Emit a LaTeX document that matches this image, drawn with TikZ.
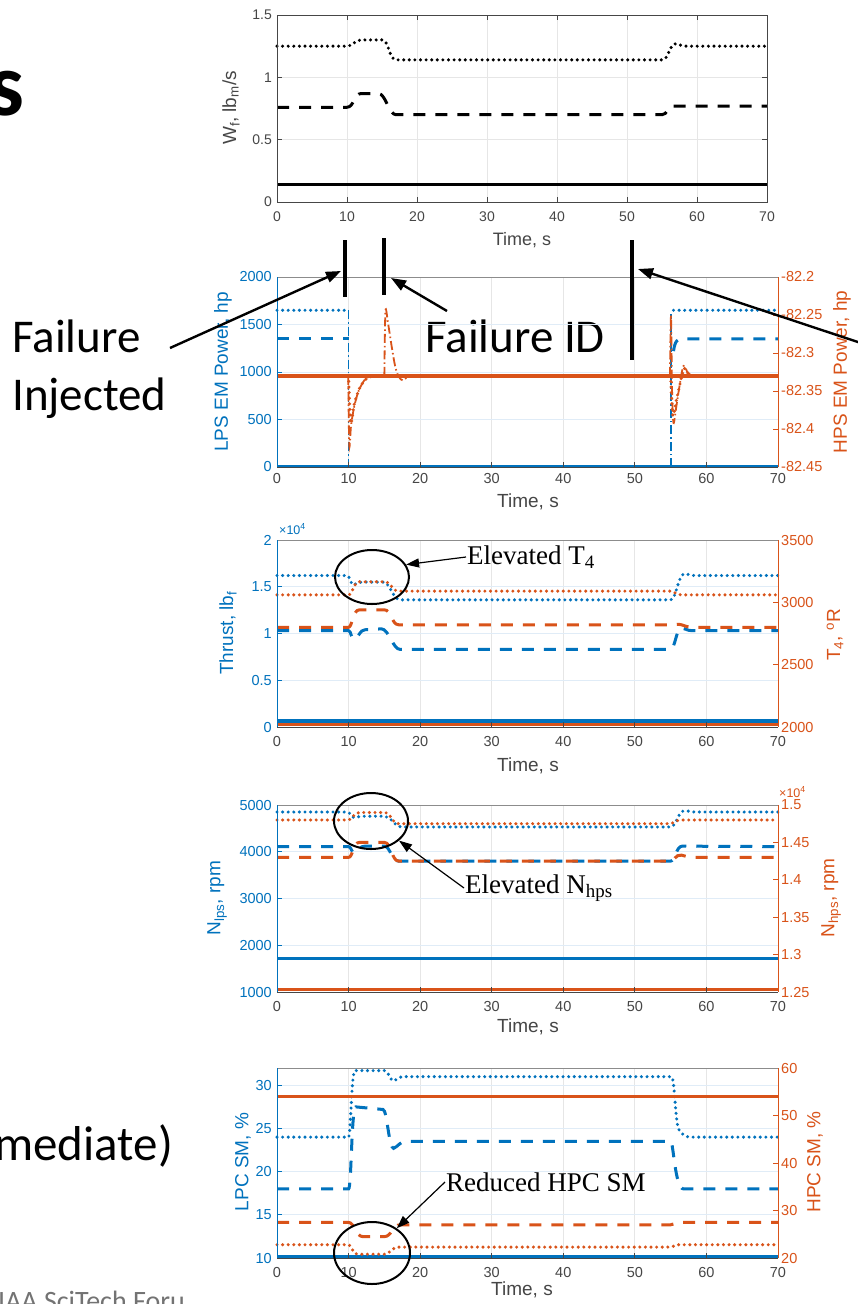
\documentclass[tikz,border=0pt]{standalone}
\usepackage{fontspec}
\setmainfont{Liberation Sans}
\newfontfamily\slidefont{Carlito}
\newfontfamily\annfont{Liberation Serif}
\usetikzlibrary{arrows.meta,shapes.geometric}
\definecolor{mblue}{RGB}{0,114,189}
\definecolor{morange}{RGB}{217,83,25}
\definecolor{axg}{RGB}{70,70,70}
\definecolor{gridg}{RGB}{230,230,230}
\definecolor{gridbl}{RGB}{224,236,247}
\tikzset{
  tk/.style={font=\fontsize{14.5}{14.5}\selectfont, inner sep=0pt},
  tksmall/.style={font=\fontsize{14}{14}\selectfont, inner sep=0pt, text=axg},
  axlbl/.style={font=\fontsize{19}{19}\selectfont, inner sep=0pt},
  frameln/.style={line width=1pt},
  gridln/.style={draw=gridg, line width=0.9pt},
  dotln/.style={line width=3.4pt, dash pattern=on 0pt off 5.6pt, line cap=round},
  dashln/.style={line width=3pt, dash pattern=on 12pt off 10pt},
  ddln/.style={line width=1.8pt, dash pattern=on 9pt off 3pt on 1.5pt off 3pt},
  solidln/.style={line width=3.4pt},
  p1/.style={shift={(277,202)}, xscale=7, yscale=-124.667},
  p2L/.style={shift={(277,467)}, xscale=7.157, yscale=-9.5},
  p2R/.style={shift={(277,467)}, xscale=7.157, yscale=-7.6},
  p3L/.style={shift={(277,727)}, xscale=7.157, yscale=-93.5},
  p3R/.style={shift={(277,727)}, xscale=7.157, yscale=-12.467},
  p4L/.style={shift={(277,992)}, xscale=7.157, yscale=-4.675},
  p4R/.style={shift={(277,992)}, xscale=7.157, yscale=-7.48},
  p5L/.style={shift={(277,1258)}, xscale=7.157, yscale=-8.636},
  p5R/.style={shift={(277,1258)}, xscale=7.157, yscale=-4.75},
  ring/.style={draw=black, line width=2pt, ellipse, inner sep=0pt},
  anno/.style={font=\annfont\fontsize{27}{27}\selectfont, inner sep=1pt},
  annoarr/.style={line width=1.2pt, -{Triangle[length=13pt,width=9pt]}},
  bigarr/.style={line width=2.4pt, -{Triangle[length=15pt,width=11pt]}},
  bar/.style={line width=4.5pt},
  slide/.style={font=\slidefont\fontsize{47}{47}\selectfont, inner sep=0pt},
}
\begin{document}
\begin{tikzpicture}[x=1pt, y=-1pt]
\useasboundingbox (0,0) rectangle (858,1304);
\fill[white] (0,0) rectangle (858,1304);
\clip (0,0) rectangle (858,1304);

% ---------- slide text ----------
\node[slide, font=\slidefont\bfseries\fontsize{90}{90}\selectfont, anchor=base east] (ttl) at (25,115) {s};
\node[slide, anchor=base west] (fi1) at (12,352) {Failure};
\node[slide, anchor=base west] (fi2) at (12,410) {Injected};
\node[slide, anchor=base west] (fid) at (425,352) {Failure ID};
\node[slide, font=\slidefont\fontsize{49}{49}\selectfont, anchor=base west] (imm) at (-6,1160) {mediate)};
\node[slide, font=\slidefont\fontsize{28}{28}\selectfont, text=black!55, anchor=base west] (conf) at (-2,1310) {IAA SciTech Foru};

% ================= plot 1: fuel flow =================
\draw[gridln] \foreach \t in {10,20,...,60} {(277+7*\t,15) -- (277+7*\t,202)};
\draw[gridln] (277,77.33) -- (767,77.33) (277,139.67) -- (767,139.67);
\begin{scope}[p1]
  \draw[dotln] (0,1.25) -- (10,1.25) .. controls (11,1.25) and (11,1.3) .. (12,1.3) -- (15,1.3) .. controls (16,1.3) and (16,1.14) .. (17,1.14) -- (55,1.14) .. controls (56,1.14) and (56,1.27) .. (57,1.27) .. controls (57.5,1.27) and (57.5,1.25) .. (58.5,1.25) -- (70,1.25);
  \draw[dashln] (0,0.76) -- (10,0.76) .. controls (11,0.76) and (11,0.87) .. (12,0.87) -- (14.5,0.87) .. controls (15.5,0.87) and (16,0.7) .. (17,0.7) -- (55,0.7) .. controls (55.8,0.7) and (55.8,0.77) .. (56.5,0.77) -- (70,0.77);
  \draw[solidln] (0,0.14) -- (70,0.14);
\end{scope}
\draw[frameln, draw=axg] (277,15) rectangle (767,202);
\draw[axg, line width=0.8pt] \foreach \t in {10,20,...,60} {(277+7*\t,202) -- ++(0,-5) (277+7*\t,15) -- ++(0,5)}
  \foreach \v in {0.5,1} {(277,202-124.667*\v) -- ++(5,0) (767,202-124.667*\v) -- ++(-5,0)};
\foreach \t in {0,10,...,70} \node[tksmall] (x1\t) at (277+7*\t,216.5) {\t};
\node[tksmall, anchor=east] (y1a) at (272,202) {0};
\node[tksmall, anchor=east] (y1b) at (272,139.67) {0.5};
\node[tksmall, anchor=east] (y1c) at (272,77.33) {1};
\node[tksmall, anchor=east] (y1d) at (272,15) {1.5};
\node[axlbl, font=\fontsize{18}{18}\selectfont, text=axg] (t1) at (522,240) {Time, s};
\node[axlbl, text=axg, rotate=90] (w1) at (231,108) {W\textsubscript{f}, lb\textsubscript{m}/s};

% ================= plot 2: EM power =================
\draw[gridln] \foreach \t in {10,20,...,60} {(277+7.157*\t,277) -- (277+7.157*\t,467)};
\draw[draw=gridbl, line width=0.9pt] \foreach \v in {500,1000,1500} {(277,467-0.095*\v) -- (778,467-0.095*\v)};
\begin{scope}[p2L]
  \draw[mblue, line width=2.4pt] (0,0.1) -- (70,0.1);
  \draw[mblue, dotln] (0,16.5) -- (10,16.5);
  \draw[mblue, dotln] (55.4,16.5) -- (70,16.5);
  \draw[mblue, dashln] (0,13.5) -- (10,13.5);
  \draw[mblue, dashln] (55.4,12.2) .. controls (55.6,13.3) and (56,13.5) .. (56.6,13.5) -- (70,13.5);
  \draw[mblue, ddln] (10,16.5) -- (10,0);
  \draw[mblue, ddln] (55,0) -- (55,16.1);
\end{scope}
\begin{scope}[p2R]
  \draw[morange, solidln] (0,12) -- (70,12);
  \draw[morange, ddln] plot[smooth] coordinates {(9.95,12) (10.1,2.8) (10.35,5.5) (10.8,8) (11.4,10) (12.2,11.4) (13,12)};
  \draw[morange, dotln] plot[smooth] coordinates {(10,12) (10.3,5.8) (10.8,8.3) (11.6,10.5) (12.6,11.7) (13.6,12)};
  \draw[morange, ddln] plot[smooth] coordinates {(15,12) (15.15,20.5) (15.5,19) (16,16) (16.5,13.3) (17,11.9) (17.6,11.4) (18.3,12)};
  \draw[morange, ddln] plot[smooth] coordinates {(54.9,12) (55.05,20) (55.2,10) (55.4,5.8) (55.8,8) (56.3,11) (56.8,13.3) (57.4,12.4) (58,12)};
  \draw[morange, dotln] plot[smooth] coordinates {(55,12) (55.3,6.8) (55.8,8.8) (56.4,11.3) (56.9,13) (57.6,12)};
\end{scope}
\draw[frameln, draw=black!45] (277,277) -- (778,277);
\draw[frameln, draw=axg] (277,467) -- (778,467);
\draw[frameln, draw=mblue] (277,277) -- (277,467);
\draw[frameln, draw=morange] (778,277) -- (778,467);
\draw[axg, line width=0.8pt] \foreach \t in {10,20,...,60} {(277+7.157*\t,467) -- ++(0,-5)};
\draw[mblue, line width=0.8pt] \foreach \v in {500,1000,1500} {(277,467-0.095*\v) -- ++(5,0)};
\draw[morange, line width=0.8pt] \foreach \k in {1,...,4} {(778,277+38*\k) -- ++(-5,0)};
\foreach \t in {0,10,...,70} \node[tk, text=axg] (x2\t) at (277+7.157*\t,479) {\t};
\foreach \v in {0,500,1000,1500,2000} \node[tk, text=mblue, anchor=east] (y2\v) at (272,467-0.095*\v) {\v};
\node[tk, text=morange, anchor=west] (r2a) at (781,277) {-82.2};
\node[tk, text=morange, anchor=west] (r2b) at (781,315) {-82.25};
\node[tk, text=morange, anchor=west] (r2c) at (781,353) {-82.3};
\node[tk, text=morange, anchor=west] (r2d) at (781,391) {-82.35};
\node[tk, text=morange, anchor=west] (r2e) at (781,429) {-82.4};
\node[tk, text=morange, anchor=west] (r2f) at (781,467) {-82.45};
\node[axlbl, text=axg] (t2) at (528,502) {Time, s};
\node[axlbl, text=mblue, rotate=90] (l2) at (223,372) {LPS EM Power, hp};
\node[axlbl, text=morange, rotate=90] (r2) at (842,372) {HPS EM Power, hp};

% event markers and call-outs
\coordinate (b1t) at (345,240); \coordinate (b1b) at (345,297);
\coordinate (b2t) at (384,238); \coordinate (b2b) at (384,295);
\coordinate (b3t) at (632,240); \coordinate (b3b) at (632,360);
\draw[bar] (b1t) -- (b1b);
\draw[bar] (b2t) -- (b2b);
\draw[bar] (b3t) -- (b3b);
\coordinate (a1s) at (170,348); \coordinate (a1e) at (341,271);
\coordinate (a2s) at (447,311); \coordinate (a2e) at (391,278);
\coordinate (a3s) at (900,356); \coordinate (a3e) at (638,269);
\draw[bigarr] (a1s) -- (a1e);
\draw[bigarr] (a2s) -- (a2e);
\draw[bigarr] (a3s) -- (a3e);

% ================= plot 3: thrust / T4 =================
\draw[gridln] \foreach \t in {10,20,...,60} {(277+7.157*\t,540) -- (277+7.157*\t,727)};
\draw[draw=gridbl, line width=0.9pt] \foreach \v in {0.5,1,1.5} {(277,727-93.5*\v) -- (778,727-93.5*\v)};
\begin{scope}[p3L]
  \draw[mblue, dotln] (0,1.62) -- (9.8,1.62) .. controls (10.2,1.62) and (10.3,1.5) .. (10.8,1.52) .. controls (11.2,1.55) and (11.5,1.55) .. (12,1.55) -- (14.8,1.55) .. controls (15.8,1.55) and (16.2,1.36) .. (17.2,1.36) -- (55,1.36) .. controls (55.8,1.36) and (56,1.64) .. (57,1.64) .. controls (57.5,1.64) and (57.5,1.62) .. (58.5,1.62) -- (70,1.62);
  \draw[mblue, dashln] (0,1.03) -- (10,1.03) .. controls (10.4,1.03) and (10.3,0.93) .. (10.9,0.94) .. controls (11.4,0.96) and (11.6,1.04) .. (12.3,1.04) -- (14.6,1.05) .. controls (15.6,1.05) and (16.2,0.83) .. (17.2,0.83) -- (55,0.83) .. controls (55.6,0.83) and (55.8,1.06) .. (56.5,1.06) .. controls (57,1.06) and (57.2,1.03) .. (58,1.03) -- (70,1.03);
  \draw[mblue, solidln] (0,0.065) -- (70,0.065);
\end{scope}
\begin{scope}[p3R]
  \draw[morange, dotln] (0,10.6) -- (10,10.6) .. controls (10.6,10.6) and (10.6,11.6) .. (11.5,11.65) -- (15,11.65) .. controls (16,11.65) and (16,10.9) .. (17,10.9) -- (55,10.9) .. controls (55.6,10.9) and (55.6,10.6) .. (56.5,10.6) -- (70,10.6);
  \draw[morange, dashln] (0,8) -- (10,8) .. controls (10.5,8) and (10.6,9.4) .. (11.5,9.4) -- (15,9.4) .. controls (16,9.4) and (16,8.2) .. (17,8.2) -- (55,8.2) .. controls (55.8,8.2) and (55.8,8.3) .. (56.5,8.2) .. controls (57,8.1) and (57.5,8) .. (58,8) -- (70,8);
  \draw[morange, solidln] (0,0.22) -- (70,0.22);
\end{scope}
\draw[frameln, draw=black!45] (277,540) -- (778,540);
\draw[frameln, draw=axg] (277,727) -- (778,727);
\draw[frameln, draw=mblue] (277,540) -- (277,727);
\draw[frameln, draw=morange] (778,540) -- (778,727);
\draw[axg, line width=0.8pt] \foreach \t in {10,20,...,60} {(277+7.157*\t,727) -- ++(0,-5)};
\draw[mblue, line width=0.8pt] \foreach \v in {0.5,1,1.5} {(277,727-93.5*\v) -- ++(5,0)};
\draw[morange, line width=0.8pt] \foreach \k in {1,2} {(778,727-62.33*\k) -- ++(-5,0)};
\foreach \t in {0,10,...,70} \node[tk, text=axg] (x3\t) at (277+7.157*\t,741) {\t};
\node[tk, text=mblue, anchor=east] (y3a) at (272,727) {0};
\node[tk, text=mblue, anchor=east] (y3b) at (272,680.25) {0.5};
\node[tk, text=mblue, anchor=east] (y3c) at (272,633.5) {1};
\node[tk, text=mblue, anchor=east] (y3d) at (272,586.75) {1.5};
\node[tk, text=mblue, anchor=east] (y3e) at (272,540) {2};
\node[tk, font=\fontsize{12.5}{12.5}\selectfont, text=mblue, anchor=west] (m3) at (279,529) {\texttimes10\textsuperscript{4}};
\foreach \k/\v in {0/2000,1/2500,2/3000,3/3500} \node[tk, text=morange, anchor=west] (r3\k) at (781,727-62.33*\k) {\v};
\node[axlbl, text=axg] (t3) at (528,766) {Time, s};
\node[axlbl, text=mblue, rotate=90] (l3) at (228,633) {Thrust, lb\textsubscript{f}};
\node[axlbl, text=morange, rotate=90] (r3) at (835,635) {T\textsubscript{4}, \textsuperscript{o}R};
\node[ring, minimum width=74, minimum height=54] (e1) at (372,577) {};
\node[anno, anchor=west] (n1) at (466,557) {Elevated T\textsubscript{4}};
\draw[annoarr] (n1.west) -- (e1.20);

% ================= plot 4: spool speeds =================
\draw[gridln] \foreach \t in {10,20,...,60} {(277+7.157*\t,805) -- (277+7.157*\t,992)};
\draw[draw=gridbl, line width=0.9pt] \foreach \k in {1,2,3} {(277,992-46.75*\k) -- (778,992-46.75*\k)};
\begin{scope}[p4L]
  \draw[mblue, dotln] (0,38.5) -- (9.8,38.5) .. controls (10.3,38.5) and (10.3,37.2) .. (10.9,37.3) .. controls (11.4,37.5) and (11.6,37.6) .. (12.2,37.6) -- (15,37.6) .. controls (16,37.6) and (16.3,35.3) .. (17.5,35.3) -- (55,35.3) .. controls (55.8,35.3) and (56,38.8) .. (57,38.8) .. controls (57.5,38.8) and (57.6,38.5) .. (58.5,38.5) -- (70,38.5);
  \draw[mblue, dashln] (0,31.1) -- (10,31.1) .. controls (10.4,31.1) and (10.4,29.6) .. (10.9,29.8) .. controls (11.4,30.4) and (11.6,31.2) .. (12.3,31.2) -- (15,31.2) .. controls (15.8,31.2) and (16,28) .. (17,28) -- (55,28) .. controls (55.6,28) and (55.8,31.2) .. (56.6,31.2) -- (70,31.1);
  \draw[mblue, solidln] (0,7.2) -- (70,7.2);
\end{scope}
\begin{scope}[p4R]
  \draw[morange, dotln] (0,23) -- (10,23) .. controls (10.6,23) and (10.6,24) .. (11.5,24) -- (15,24) .. controls (16,24) and (16,22.5) .. (17,22.5) -- (55,22.5) .. controls (55.6,22.5) and (55.6,23) .. (56.5,23) -- (70,23);
  \draw[morange, dashln] (0,18) -- (10,18) .. controls (10.6,18) and (10.6,20) .. (11.5,20) -- (15,20) .. controls (16,20) and (16,17.5) .. (17,17.5) -- (55,17.5) .. controls (55.6,17.5) and (55.6,18.4) .. (56.5,18.3) .. controls (57,18.2) and (57.5,18) .. (58,18) -- (70,18);
  \draw[morange, solidln] (0,0.3) -- (70,0.3);
\end{scope}
\draw[frameln, draw=black!45] (277,805) -- (778,805);
\draw[frameln, draw=axg] (277,992) -- (778,992);
\draw[frameln, draw=mblue] (277,805) -- (277,992);
\draw[frameln, draw=morange] (778,805) -- (778,992);
\draw[axg, line width=0.8pt] \foreach \t in {10,20,...,60} {(277+7.157*\t,992) -- ++(0,-5)};
\draw[mblue, line width=0.8pt] \foreach \k in {1,2,3} {(277,992-46.75*\k) -- ++(5,0)};
\draw[morange, line width=0.8pt] \foreach \k in {1,...,4} {(778,992-37.4*\k) -- ++(-5,0)};
\foreach \t in {0,10,...,70} \node[tk, text=axg] (x4\t) at (277+7.157*\t,1006) {\t};
\foreach \k/\v in {0/1000,1/2000,2/3000,3/4000,4/5000} \node[tk, text=mblue, anchor=east] (y4\k) at (272,992-46.75*\k) {\v};
\foreach \k/\v in {0/1.25,1/1.3,2/1.35,3/1.4,4/1.45,5/1.5} \node[tk, text=morange, anchor=west] (r4\k) at (781,992-37.4*\k) {\v};
\node[tk, font=\fontsize{12.5}{12.5}\selectfont, text=morange, anchor=west] (m4) at (779,792) {\texttimes10\textsuperscript{4}};
\node[axlbl, text=axg] (t4) at (528,1027) {Time, s};
\node[axlbl, text=mblue, rotate=90] (l4) at (217,898) {N\textsubscript{lps}, rpm};
\node[axlbl, text=morange, rotate=90] (r4) at (831,898) {N\textsubscript{hps}, rpm};
\node[ring, minimum width=74, minimum height=56] (e2) at (371,821) {};
\node[anno, anchor=west] (n2) at (464,888) {Elevated N\textsubscript{hps}};
\draw[annoarr] (n2.west) -- (e2.-35);

% ================= plot 5: stall margins =================
\draw[gridln] \foreach \t in {10,20,...,60} {(277+7.157*\t,1068) -- (277+7.157*\t,1258)};
\draw[draw=gridbl, line width=0.9pt] \foreach \k in {1,2,3,4} {(277,1258-43.18*\k) -- (778,1258-43.18*\k)};
\begin{scope}[p5L]
  \draw[mblue, dotln] (0,14) -- (10,14) .. controls (10.3,14) and (10.4,21.7) .. (10.9,21.7) -- (15,21.7) .. controls (15.6,21.7) and (15.8,20.5) .. (16.3,20.5) .. controls (16.8,20.6) and (17,21) .. (17.6,21) -- (55.1,21) .. controls (55.6,21) and (55.6,15.5) .. (56.2,14.8) .. controls (56.8,14.2) and (57,14) .. (58,14) -- (70,14);
  \draw[mblue, dashln] (0,8) -- (10,8) .. controls (10.4,8) and (10.4,17.5) .. (11,17.5) -- (14.8,17.2) .. controls (15.4,17.2) and (15.6,12.7) .. (16.3,12.7) .. controls (16.9,12.9) and (17.2,13.5) .. (18,13.5) -- (55,13.5) .. controls (55.4,13.5) and (55.6,8) .. (56.8,8) -- (70,8);
  \draw[mblue, solidln] (0,0.1) -- (70,0.1);
\end{scope}
\begin{scope}[p5R]
  \draw[morange, solidln] (0,34) -- (70,34);
  \draw[morange, dashln] (0,7.5) -- (10,7.5) .. controls (10.8,7.5) and (11,4.5) .. (12,4.5) -- (15,4.5) .. controls (16,4.5) and (16.2,7) .. (17.2,7) -- (55,7) .. controls (55.6,7) and (55.6,7.5) .. (56.5,7.5) -- (70,7.5);
  \draw[morange, dotln] (0,2.8) -- (10,2.8) .. controls (10.5,2.8) and (10.5,0.8) .. (11.2,0.8) -- (15,0.8) .. controls (15.8,0.8) and (16,2.3) .. (17,2.3) -- (55,2.3) .. controls (55.5,2.3) and (55.5,2.8) .. (56.2,2.8) -- (70,2.8);
\end{scope}
\draw[frameln, draw=black!45] (277,1068) -- (778,1068);
\draw[frameln, draw=axg] (277,1258) -- (778,1258);
\draw[frameln, draw=mblue] (277,1068) -- (277,1258);
\draw[frameln, draw=morange] (778,1068) -- (778,1258);
\draw[axg, line width=0.8pt] \foreach \t in {10,20,...,60} {(277+7.157*\t,1258) -- ++(0,-5)};
\draw[mblue, line width=0.8pt] \foreach \k in {1,...,4} {(277,1258-43.18*\k) -- ++(5,0)};
\draw[morange, line width=0.8pt] \foreach \k in {1,...,3} {(778,1258-47.5*\k) -- ++(-5,0)};
\foreach \t in {0,10,...,70} \node[tk, text=axg] (x5\t) at (277+7.157*\t,1272) {\t};
\foreach \k/\v in {0/10,1/15,2/20,3/25,4/30} \node[tk, text=mblue, anchor=east] (y5\k) at (272,1258-43.18*\k) {\v};
\foreach \k/\v in {0/20,1/30,2/40,3/50,4/60} \node[tk, text=morange, anchor=west] (r5\k) at (781,1258-47.5*\k) {\v};
\node[axlbl, text=axg] (t5) at (522,1290) {Time, s};
\node[axlbl, text=mblue, rotate=90] (l5) at (243,1162) {LPC SM, \%};
\node[axlbl, text=morange, rotate=90] (r5) at (815,1162) {HPC SM, \%};
\node[ring, minimum width=76, minimum height=62] (e3) at (372,1253) {};
\node[anno, anchor=west] (n3) at (445,1182) {Reduced HPC SM};
\draw[annoarr] (n3.west) -- (e3.45);
\end{tikzpicture}
\end{document}
